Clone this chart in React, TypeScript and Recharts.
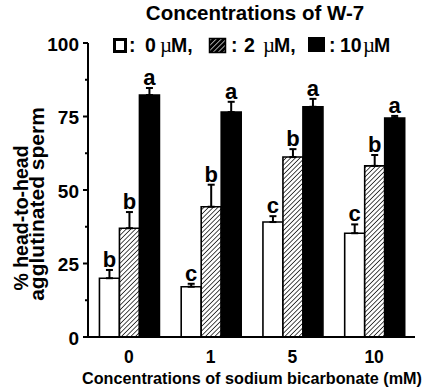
import React from 'react';
import { BarChart, Bar, XAxis, YAxis, ErrorBar, LabelList } from 'recharts';

const categories = ['0', '1', '5', '10'];
const w7_0 = [20, 17.1, 39.1, 35.3];
const w7_0Err = [2.8, 1, 2, 3];
const w7_0Letters = ['b', 'c', 'c', 'c'];
const w7_2 = [37, 44.3, 61.2, 58.2];
const w7_2Err = [5.5, 7.5, 2.7, 3.7];
const w7_2Letters = ['b', 'b', 'b', 'b'];
const w7_10 = [82.3, 76.5, 78.3, 74.5];
const w7_10Err = [2.4, 3.5, 2.7, 0.7];
const w7_10Letters = ['a', 'a', 'a', 'a'];
const yTicks = [0, 12.5, 25, 37.5, 50, 62.5, 75, 87.5, 100];
const boundaryTicks = [0, 1, 2, 3, 4];

const data = categories.map((c, i) => ({
  cat: c,
  v0: w7_0[i], e0: [0, w7_0Err[i]], l0: w7_0Letters[i],
  v2: w7_2[i], e2: [0, w7_2Err[i]], l2: w7_2Letters[i],
  v10: w7_10[i], e10: [0, w7_10Err[i]], l10: w7_10Letters[i],
}));

const FONT = '"Liberation Sans", Arial, Helvetica, sans-serif';
const SERIF = '"Liberation Serif", "Times New Roman", serif';

const makeLetter = (errs: number[], vals: number[]) => (props: any) => {
  const vb = props.viewBox || props;
  const bx = vb.x ?? props.x;
  const by = vb.y ?? props.y;
  const bw = vb.width ?? props.width;
  const bh = Math.abs(vb.height ?? props.height);
  const i = props.index;
  const errPx = vals[i] ? (errs[i] * bh) / vals[i] : 0;
  return (
    <text x={bx + bw / 2} y={by - errPx - 3} textAnchor="middle" fontFamily={FONT} fontWeight="bold" fontSize={22} fill="#000">
      {props.value}
    </text>
  );
};

const YTick = (props: any) => {
  const { x, y, payload } = props;
  const major = payload.value % 25 === 0;
  return (
    <g>
      <line x1={x - (major ? 5 : 3)} x2={x} y1={y} y2={y} stroke="#000" strokeWidth={2} />
      {major && (
        <text x={x - 9} y={y + 7.5} textAnchor="end" fontFamily={FONT} fontWeight="bold" fontSize={19} fill="#000">
          {payload.value}
        </text>
      )}
    </g>
  );
};

const XTick = (props: any) => {
  const { x, y, payload } = props;
  return (
    <text x={x} y={y + 26} textAnchor="middle" fontFamily={FONT} fontWeight="bold" fontSize={17.5} fill="#000">
      {payload.value}
    </text>
  );
};

export default function App() {
  return (
    <div style={{ position: 'absolute', left: 0, top: 0, width: 425, height: 391, background: '#fff' }}>
      <BarChart
        width={425}
        height={391}
        data={data}
        margin={{ top: 43, right: 10, bottom: 24, left: 0 }}
        barCategoryGap="14%"
        barGap={0}
      >
        <defs>
          <pattern id="hatch" patternUnits="userSpaceOnUse" width="3.3" height="3.3" patternTransform="rotate(45)">
            <rect width="3.3" height="3.3" fill="#fff" />
            <line x1="0" y1="0" x2="0" y2="3.3" stroke="#000" strokeWidth="1.4" />
          </pattern>
        </defs>
        <XAxis
          xAxisId="bound"
          type="number"
          domain={[0, 4]}
          ticks={boundaryTicks}
          allowDataOverflow
          tickFormatter={() => ''}
          axisLine={false}
          tickLine={{ stroke: '#000', strokeWidth: 2 }}
          tickSize={4}
          height={0}
        />
        <XAxis
          dataKey="cat"
          interval={0}
          axisLine={{ stroke: '#000', strokeWidth: 2 }}
          tickLine={false}
          tickSize={0}
          tickMargin={0}
          tick={<XTick />}
          height={30}
        />
        <YAxis
          domain={[0, 100]}
          ticks={yTicks}
          interval={0}
          width={88}
          axisLine={{ stroke: '#000', strokeWidth: 2 }}
          tickLine={false}
          tickSize={0}
          tickMargin={0}
          tick={<YTick />}
        />
        <Bar dataKey="v0" fill="#fff" stroke="#000" strokeWidth={1.6} isAnimationActive={false}>
          <ErrorBar dataKey="e0" width={3.5} strokeWidth={2} stroke="#000" direction="y" />
          <LabelList dataKey="l0" content={makeLetter(w7_0Err, w7_0)} />
        </Bar>
        <Bar dataKey="v2" fill="url(#hatch)" stroke="#000" strokeWidth={1.6} isAnimationActive={false}>
          <ErrorBar dataKey="e2" width={3.5} strokeWidth={2} stroke="#000" direction="y" />
          <LabelList dataKey="l2" content={makeLetter(w7_2Err, w7_2)} />
        </Bar>
        <Bar dataKey="v10" fill="#000" stroke="#000" strokeWidth={1.6} isAnimationActive={false}>
          <ErrorBar dataKey="e10" width={3.5} strokeWidth={2} stroke="#000" direction="y" />
          <LabelList dataKey="l10" content={makeLetter(w7_10Err, w7_10)} />
        </Bar>
      </BarChart>
      <svg width={425} height={391} style={{ position: 'absolute', left: 0, top: 0, pointerEvents: 'none' }}>
        <defs>
          <pattern id="hatchL" patternUnits="userSpaceOnUse" width="3.6" height="3.6" patternTransform="rotate(45)">
            <rect width="3.6" height="3.6" fill="#000" />
            <line x1="0" y1="0" x2="0" y2="3.6" stroke="#fff" strokeWidth="1.3" />
          </pattern>
        </defs>
        <text x={255} y={20} textAnchor="middle" fontFamily={FONT} fontWeight="bold" fontSize={20.5} fill="#000">
          Concentrations of W-7
        </text>
        <g fontFamily={FONT} fontWeight="bold" fontSize={19.5} fill="#000">
          <rect x={114.5} y={39.5} width={11} height={12} fill="#fff" stroke="#000" strokeWidth={3} />
          <text x={129} y={52}>:</text>
          <text x={145} y={52}>0</text>
          <text x={160} y={52} fontFamily={SERIF} fontWeight="normal" fontSize={21}>µ</text>
          <text x={171} y={52}>M,</text>
          <rect x={209.5} y={38.5} width={16} height={14} fill="url(#hatchL)" stroke="#000" strokeWidth={1.5} />
          <text x={231} y={52}>:</text>
          <text x={244} y={52}>2</text>
          <text x={263} y={52} fontFamily={SERIF} fontWeight="normal" fontSize={21}>µ</text>
          <text x={274} y={52}>M,</text>
          <rect x={308} y={37} width={17} height={15} fill="#000" />
          <text x={329} y={52}>:</text>
          <text x={340} y={52}>10</text>
          <text x={363} y={52} fontFamily={SERIF} fontWeight="normal" fontSize={21}>µ</text>
          <text x={374} y={52}>M</text>
        </g>
        <text transform="translate(28,218) rotate(-90)" textAnchor="middle" fontFamily={FONT} fontWeight="bold" fontSize={19.5} fill="#000">
          % head-to-head
        </text>
        <text transform="translate(44,204) rotate(-90)" textAnchor="middle" fontFamily={FONT} fontWeight="bold" fontSize={21} fill="#000">
          agglutinated sperm
        </text>
        <text x={252} y={384} textAnchor="middle" fontFamily={FONT} fontWeight="bold" fontSize={16.2} fill="#000">
          Concentrations of sodium bicarbonate (mM)
        </text>
      </svg>
    </div>
  );
}
